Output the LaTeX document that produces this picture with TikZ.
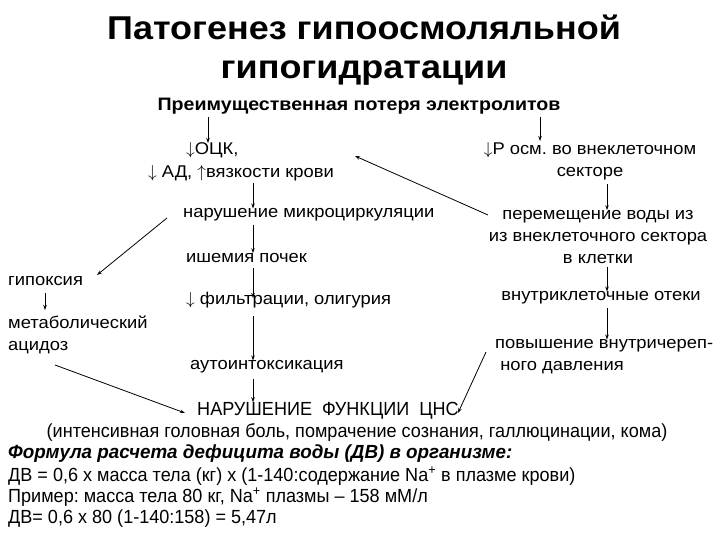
\documentclass[tikz,border=0pt]{standalone}
\usepackage{fontspec}
\setmainfont{Liberation Sans}
\newfontfamily\bodyfont[FakeStretch=1.08]{Liberation Sans}
\newfontfamily\headfont[FakeStretch=1.09]{Liberation Sans}
\newfontfamily\narrowfont[FakeStretch=0.95]{Liberation Sans}
\newfontfamily\formfont[FakeStretch=0.99]{Liberation Sans}
\newcommand{\dn}{\ensuremath{\downarrow}}
\newcommand{\upa}{\ensuremath{\uparrow}}
\usetikzlibrary{arrows.meta}
\tikzset{
  txt/.style={inner sep=0pt, font=\bodyfont\fontsize{17}{22}\selectfont, align=center},
  lft/.style={txt, anchor=west, align=left},
  nar/.style={inner sep=0pt, anchor=west, font=\narrowfont\fontsize{19}{22}\selectfont},
  arr/.style={-{Stealth[length=5pt,width=3.5pt]}, line width=0.8pt},
}
\begin{document}
\frenchspacing
\begin{tikzpicture}[x=1pt,y=-1pt]
\useasboundingbox (0,0) rectangle (720,540);
% title
\node[inner sep=0pt, font=\headfont\bfseries\fontsize{33}{39}\selectfont, align=center] (title) at (364,50) {Патогенез гипоосмоляльной\\гипогидратации};
\node[inner sep=0pt, font=\headfont\bfseries\fontsize{18}{20}\selectfont] (loss) at (359,106) {Преимущественная потеря электролитов};
% left column
\node[lft] (ock1) at (186,150) {\dn ОЦК,};
\node[lft] (ock2) at (148,173) {\dn\ АД, \upa вязкости крови};
\node[lft] (mikro) at (183,215) {нарушение микроциркуляции};
\node[lft] (ishem) at (186,258) {ишемия почек};
\node[lft] (filtr) at (186,300) {\dn\ фильтрации, олигурия};
\node[lft] (auto) at (190,367) {аутоинтоксикация};
% far left
\node[lft] (hypox) at (8,281) {гипоксия};
\node[lft] (acid) at (8,335) {метаболический\\ацидоз};
% right column
\node[txt] (posm) at (590,161) {\dn Р осм. во внеклеточном\\секторе};
\node[txt] (move) at (598,237) {перемещение воды из\\из внеклеточного сектора\\в клетки};
\node[txt] (oteki) at (601,298) {внутриклеточные отеки};
\node[lft] (press) at (495,357) {повышение внутричереп-\\\ ного давления};
% bottom
\node[inner sep=0pt, font=\narrowfont\fontsize{19}{22}\selectfont] (cns) at (328,411) {НАРУШЕНИЕ\ \ ФУНКЦИИ\ \ ЦНС};
\node[inner sep=0pt, font=\narrowfont\fontsize{19}{22}\selectfont] (symp) at (357,433) {(интенсивная головная боль, помрачение сознания, галлюцинации, кома)};
\node[nar, font=\formfont\bfseries\itshape\fontsize{19}{22}\selectfont] (form) at (8,454) {Формула расчета дефицита воды (ДВ) в организме:};
\node[nar] (f1) at (8,476) {ДВ = 0,6 х масса тела (кг) х (1-140:содержание Na\textsuperscript{+} в плазме крови)};
\node[nar] (f2) at (8,497) {Пример: масса тела 80 кг, Na\textsuperscript{+} плазмы – 158 мМ/л};
\node[nar] (f3) at (8,519) {ДВ= 0,6 х 80 (1-140:158) = 5,47л};
% column coordinates
\coordinate (cx) at (253,0);
\coordinate (rx) at (607,0);
% arrows
\draw[arr] (208,117) -- (208,143);
\draw[arr] (540,117) -- (540,141);
\draw[arr] (cx |- ock2.south) ++(0,2) -- (cx |- mikro.north);
\draw[arr] (cx |- mikro.south) ++(0,3) -- (cx |- ishem.north);
\draw[arr] (cx |- ishem.south) ++(0,5) -- (253,298);
\draw[arr] (cx |- filtr.south) ++(0,8) -- (cx |- auto.north);
\draw[arr] (cx |- auto.south) ++(0,5) -- (cx |- cns.north);
\draw[arr] (rx |- posm.south) ++(0,4) -- (rx |- move.north);
\draw[arr] (rx |- move.south) ++(0,3) -- (rx |- oteki.north);
\draw[arr] (rx |- oteki.south) ++(0,3) -- (rx |- press.north);
\draw[arr] (488,215) -- (355,156);
\draw[arr] (167,218) -- (97,275);
\draw[arr] (45,293) -- (45,310);
\draw[arr] (55,365) -- (185,413);
\draw[arr] (486,352) -- (458,413);
\end{tikzpicture}
\end{document}
